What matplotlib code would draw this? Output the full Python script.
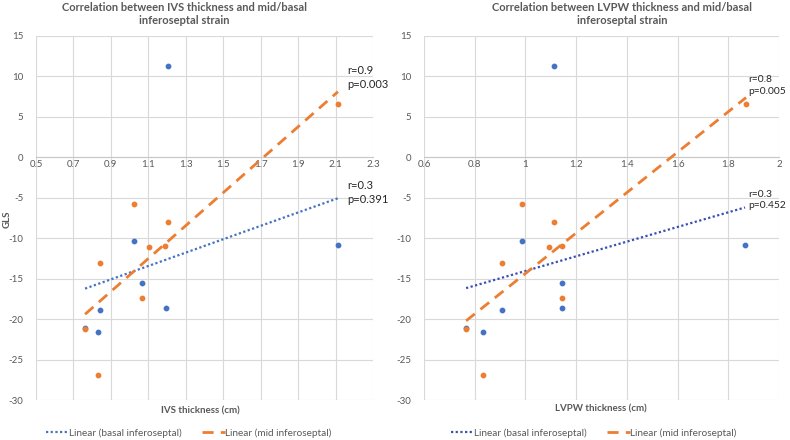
import numpy as np
import matplotlib
matplotlib.use("Agg")
import matplotlib.pyplot as plt

plt.rcParams['font.family'] = ['Lato', 'DejaVu Sans']
plt.rcParams['axes.unicode_minus'] = False

# GLS values (same patients in both panels)
basal_gls = [11.3, -10.3, -10.8, -21.1, -21.6, -18.9, -15.5, -18.6]
mid_gls = [6.6, -5.8, -8.0, -11.1, -10.9, -13.1, -17.4, -21.2, -26.9]

# wall thickness (cm)
ivs_basal = [1.205, 1.023, 2.113, 0.762, 0.831, 0.842, 1.067, 1.194]
ivs_mid = [2.113, 1.023, 1.205, 1.104, 1.19, 0.842, 1.067, 0.762, 0.831]
lvpw_basal = [1.113, 0.986, 1.866, 0.766, 0.833, 0.908, 1.144, 1.144]
lvpw_mid = [1.87, 0.986, 1.113, 1.093, 1.144, 0.908, 1.144, 0.766, 0.833]

ivs_ticks = [0.5, 0.7, 0.9, 1.1, 1.3, 1.5, 1.7, 1.9, 2.1, 2.3]
ivs_labels = ["0.5", "0.7", "0.9", "1.1", "1.3", "1.5", "1.7", "1.9", "2.1", "2.3"]
lvpw_ticks = [0.6, 0.8, 1.0, 1.2, 1.4, 1.6, 1.8, 2.0]
lvpw_labels = ["0.6", "0.8", "1", "1.2", "1.4", "1.6", "1.8", "2"]
gls_ticks = [15, 10, 5, 0, -5, -10, -15, -20, -25, -30]

ivs_stats = ["r=0.9\np=0.003", "r=0.3\np=0.391"]
lvpw_stats = ["r=0.8\np=0.005", "r=0.3\np=0.452"]

BLUE = "#4472C4"
ORANGE = "#ED7D31"
GREY = "#595959"
W, H = 790, 440


def trend(x, y):
    k, b = np.polyfit(x, y, 1)
    xs = np.array([min(x), max(x)])
    return xs, k * xs + b


def panel(ax, xb, xm, ticks, labels, stats, stat_x, stat_y, blue_line, fs):
    ax.set_xlim(ticks[0], ticks[-1])
    ax.set_ylim(-30, 15)
    ax.set_xticks(ticks)
    ax.set_xticklabels(labels)
    ax.set_yticks(gls_ticks)
    ax.grid(True, color="#D9D9D9", lw=0.8)
    ax.set_axisbelow(True)
    for s in ["top", "right", "left"]:
        ax.spines[s].set_visible(False)
    ax.spines["bottom"].set_position(("data", 0))
    ax.spines["bottom"].set_color("#C8C8C8")
    ax.tick_params(length=0, labelsize=7, labelcolor=GREY)
    ax.tick_params(axis="x", pad=2)
    ax.tick_params(axis="y", pad=9)

    ax.scatter(xb, basal_gls, s=10, color=BLUE, zorder=3)
    ax.scatter(xm, mid_gls, s=10, color=ORANGE, zorder=4)
    tx, ty = trend(xb, basal_gls)
    lb, = ax.plot(tx, ty, color=blue_line, lw=1.6, ls=(0, (1, 1.1)), zorder=5,
                  label="Linear (basal inferoseptal)")
    tx, ty = trend(xm, mid_gls)
    lm, = ax.plot(tx, ty, color=ORANGE, lw=2.0, ls=(0, (4, 2.6)), zorder=5,
                  label="Linear (mid inferoseptal)")
    for txt, yy in zip(stats, stat_y):
        ax.text(stat_x, yy, txt, fontsize=fs, color="#262626", va="center",
                linespacing=1.35, clip_on=False)
    return [lb, lm]


fig = plt.figure(figsize=(7.9, 4.4), dpi=100)

ax1 = fig.add_axes([36 / W, 1 - 400 / H, 337 / W, 364 / H])
h1 = panel(ax1, ivs_basal, ivs_mid, ivs_ticks, ivs_labels, ivs_stats, 2.16, [9.9, -4.3], BLUE, 8)
ax2 = fig.add_axes([424 / W, 1 - 400 / H, 355 / W, 364 / H])
h2 = panel(ax2, lvpw_basal, lvpw_mid, lvpw_ticks, lvpw_labels, lvpw_stats, 1.88, [8.9, -5.3], "#3A50B5", 7.4)

fig.text(184 / W, 1 - 14 / H, "Correlation between IVS thickness and mid/basal\ninferoseptal strain",
         ha="center", va="center", fontsize=8, fontweight="bold", color=GREY, linespacing=1.3)
fig.text(622 / W, 1 - 14 / H, "Correlation between LVPW thickness and mid/basal\ninferoseptal strain",
         ha="center", va="center", fontsize=8, fontweight="bold", color=GREY, linespacing=1.3)

fig.text(200 / W, 1 - 411 / H, "IVS thickness (cm)", ha="center", va="center",
         fontsize=7, fontweight="bold", color=GREY)
fig.text(601 / W, 1 - 409 / H, "LVPW thickness (cm)", ha="center", va="center",
         fontsize=7, fontweight="bold", color=GREY)
fig.text(7 / W, 1 - 219 / H, "GLS", ha="center", va="center", rotation=90,
         fontsize=7, fontweight="bold", color=GREY)

for handles, cx in [(h1, 189), (h2, 594)]:
    leg = fig.legend(handles=handles, loc="center", bbox_to_anchor=(cx / W, 1 - 433 / H),
                     ncol=2, frameon=False, fontsize=7.2, handlelength=2.3,
                     handletextpad=0.0, columnspacing=2.0)
    for t in leg.get_texts():
        t.set_color(GREY)

fig.savefig("out.png", dpi=100)
